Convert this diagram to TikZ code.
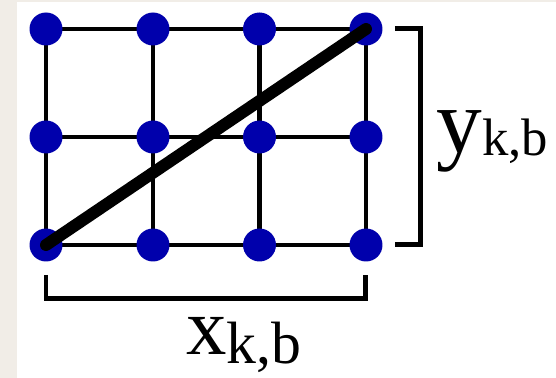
\documentclass[tikz,border=0pt]{standalone}
\usepackage{fontspec}
\setmainfont{Liberation Serif}
\usetikzlibrary{positioning}
\definecolor{dotblue}{RGB}{0,0,172}
\definecolor{paper}{RGB}{241,237,231}

\begin{document}
\begin{tikzpicture}[
    x=0.02cm, y=-0.02cm,
    dot/.style={circle, fill=dotblue, inner sep=0pt, minimum size=0.66cm},
    grid/.style={line width=0.095cm, draw=black},
    diag/.style={line width=0.24cm, draw=black, line cap=round},
    brace/.style={line width=0.1cm, draw=black},
    label/.style={inner sep=0pt, anchor=base west},
]

% Background
\fill[paper] (0,0) rectangle (556,378);
\fill[white] (17,2) rectangle (556,378);

% Grid points
\foreach \i/\x in {0/46, 1/153, 2/259.5, 3/366}
  \foreach \j/\y in {0/29, 1/137, 2/245}
    \coordinate (p\i\j) at (\x,\y);

% Grid lines
\foreach \j in {0,1,2}
  \draw[grid] (p0\j) -- (p3\j);
\foreach \i in {0,1,2,3}
  \draw[grid] (p\i0) -- (p\i2);

% Dots
\foreach \i in {0,1,2,3}
  \foreach \j in {0,1,2}
    \node[dot] (d\i\j) at (p\i\j) {};

% Diagonal
\draw[diag] (d02.center) -- (d30.center);

% Brackets
\coordinate (ry0) at (395,29);
\coordinate (ry1) at (421,29);
\coordinate (ry2) at (421,245);
\coordinate (ry3) at (395,245);
\draw[brace] (ry0) -- (ry1) -- (ry2) -- (ry3);

\coordinate (bx0) at (46,275);
\coordinate (bx1) at (46,299);
\coordinate (bx2) at (366,299);
\coordinate (bx3) at (366,275);
\draw[brace] (bx0) -- (bx1) -- (bx2) -- (bx3);

% Labels
\node[label] (ylab) at (436,153) {\fontsize{52}{52}\selectfont y\fontsize{30}{30}\selectfont\raisebox{-1.7pt}{k,b}};
\node[label] (xlab) at (186,355) {\fontsize{46}{46}\selectfont x\fontsize{34}{34}\selectfont\raisebox{-5pt}{k,b}};

\end{tikzpicture}
\end{document}
